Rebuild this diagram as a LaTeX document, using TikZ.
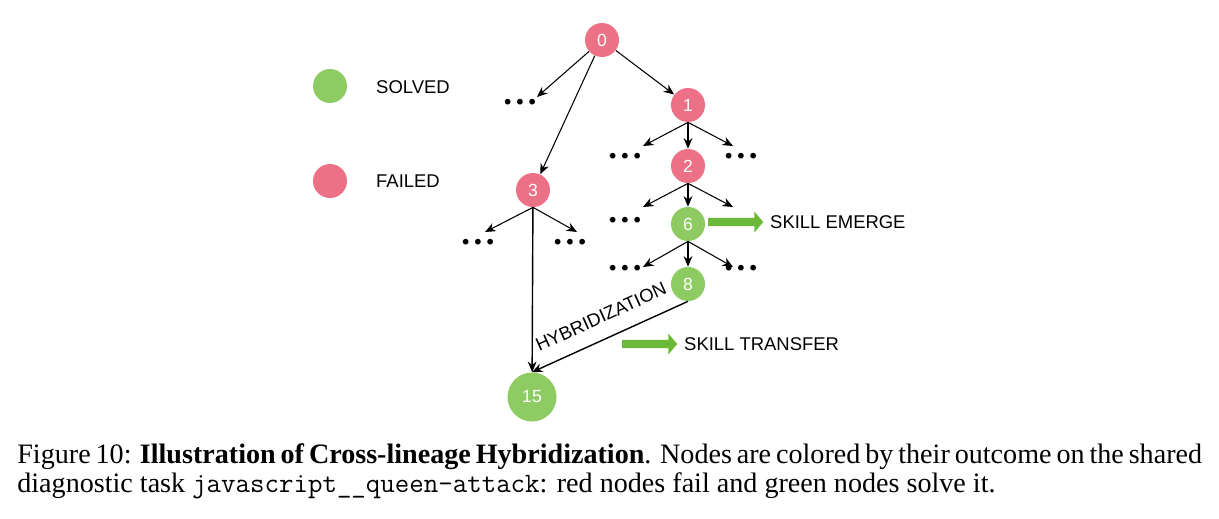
\documentclass[tikz,border=0pt]{standalone}
\usepackage{fontspec}
\setmainfont{Liberation Serif}
\newfontfamily\diagfont{Liberation Sans}
\usepackage{xcolor}
\usetikzlibrary{shapes.arrows, arrows.meta, positioning}
\definecolor{failred}{RGB}{236,112,134}
\definecolor{solvegreen}{RGB}{142,203,98}
\definecolor{skillgreen}{RGB}{108,184,58}

\begin{document}
\begin{tikzpicture}[x=0.02cm, y=-0.02cm,
        red/.style={circle, fill=failred, text=white, minimum size=0.68cm, inner sep=0pt, font=\diagfont\fontsize{10}{12}\selectfont},
        green/.style={circle, fill=solvegreen, text=white, minimum size=0.68cm, inner sep=0pt, font=\diagfont\fontsize{10}{12}\selectfont},
        dots/.style={font=\fontsize{20}{20}\selectfont\bfseries},
        lbl/.style={anchor=west, font=\diagfont\fontsize{10.5}{12}\selectfont},
        arrow/.style={-{Stealth[length=6pt,width=5pt]}, semithick},
        skill/.style={single arrow, fill=skillgreen, minimum height=1.1cm, minimum width=0.42cm, single arrow head extend=0.09cm, single arrow tip angle=100, inner sep=0.05cm}
    ]
    \useasboundingbox (0,0) rectangle (1219,518);

    % Legend
    \node[green] (lgreen) at (330,86) {};
    \node[lbl] at (370,87) {SOLVED};
    \node[red] (lred) at (330,181) {};
    \node[lbl] at (370,181) {FAILED};

    % Tree nodes
    \node[red] (n0) at (602,40) {0};
    \node[red] (n1) at (688,105) {1};
    \node[red] (n2) at (688,166) {2};
    \node[red] (n3) at (533,190) {3};
    \node[green] (n6) at (688,224) {6};
    \node[green] (n8) at (688,284) {8};
    \node[green, minimum size=0.98cm] (n15) at (532,397) {15};

    % Dots
    \newcommand{\threedots}{.\kern2pt.\kern2pt.}
    \node[dots] (d0) at (520,102) {\threedots};
    \node[dots] (d1l) at (625,156) {\threedots};
    \node[dots] (d1r) at (741,156) {\threedots};
    \node[dots] (d2l) at (625,220) {\threedots};
    \node[dots] (d3l) at (478,242) {\threedots};
    \node[dots] (d3r) at (570,242) {\threedots};
    \node[dots] (d6l) at (625,268) {\threedots};
    \node[dots] (d6r) at (741,268) {\threedots};

    \coordinate (t0) at (537,97);
    \coordinate (t1l) at (643,146);
    \coordinate (t1r) at (733,146);
    \coordinate (t2l) at (643,207);
    \coordinate (t2r) at (733,207);
    \coordinate (t3l) at (485,232);
    \coordinate (t3r) at (577,232);
    \coordinate (t6l) at (643,267);
    \coordinate (t6r) at (733,267);

    % Arrows
    \draw[arrow] (n0) -- (t0);
    \draw[arrow] (n0) -- (n1);
    \draw[arrow] (n0) -- (n3);
    \draw[arrow] (n1.south) -- (t1l);
    \draw[arrow] (n1) -- (n2);
    \draw[arrow] (n1.south) -- (t1r);
    \draw[arrow] (n2.south) -- (t2l);
    \draw[arrow] (n2) -- (n6);
    \draw[arrow] (n2.south) -- (t2r);
    \draw[arrow] (n3.south) -- (t3l);
    \draw[arrow] (n3.south) -- (t3r);
    \draw[arrow] (n6.south) -- (t6l);
    \draw[arrow] (n6) -- (n8);
    \draw[arrow] (n6.south) -- (t6r);
    \draw[arrow, thick] (n3) -- (n15);
    \draw[arrow, thick] (n8.south) -- node[sloped, above=5pt, pos=0.5, font=\diagfont\fontsize{10.5}{12}\selectfont] (hyb) {HYBRIDIZATION} (n15.north);

    % Skill labels
    \node[skill] (emerge) at (734,222) {};
    \node[lbl] at (764,222) {SKILL EMERGE};
    \node[skill] (transfer) at (648,344) {};
    \node[lbl] at (678,344) {SKILL TRANSFER};

    % Caption
    \node[anchor=north west, text width=23.7cm, align=justify, inner sep=0pt, font=\fontsize{16}{16.6}\selectfont] (caption) at (17,443)
        {Figure 10: \textbf{Illustration of Cross-lineage Hybridization}. Nodes are colored by their outcome on the shared diagnostic task \texttt{javascript\_\_queen-attack}: red nodes fail and green nodes solve it.};

    \end{tikzpicture}
\end{document}
